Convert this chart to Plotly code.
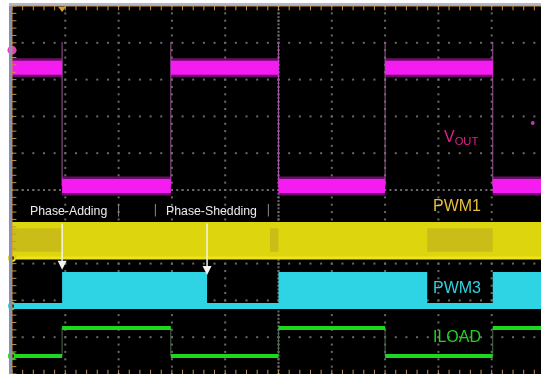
import numpy as np
import plotly.graph_objects as go

# Scope graticule: 10 horizontal divisions x 10 vertical divisions
X_MIN, X_MAX = -0.0563, 9.925
Y_MIN, Y_MAX = 0.0, 10.082

# Load-step instants (div) -- same edges for VOUT and ILOAD
step_times = [0.94, 2.98, 5.0, 7.0, 9.02]

# VOUT trace levels (div) for each interval between steps
vout_levels = [8.32, 5.11, 8.32, 5.11, 8.32, 5.11]
vout_spike = 9.02

# ILOAD levels (div)
iload_levels = [0.49, 1.25, 0.49, 1.25, 0.49, 1.25]

# PWM3: baseline / switching envelope and the intervals where phase 3 is active
pwm3_base, pwm3_high = 1.85, 2.77
pwm3_on = [(0.94, 3.66), (5.0, 7.79), (9.02, X_MAX)]

# PWM1: switching envelope and intervals with a lower-density fill
pwm1_low, pwm1_high = 3.15, 4.13
pwm1_dim = [(0.0, 0.94), (4.84, 5.0), (7.79, 9.02)]

# Annotation text
trace_labels = ["V<sub>OUT</sub>", "PWM1", "PWM3", "ILOAD"]
label_colors = ["#e0228e", "#e6bf3c", "#2fd2e2", "#22d222"]
label_pos = [(8.42, 6.44), (8.35, 4.57), (8.35, 2.36), (8.35, 1.01)]
event_labels = ["Phase-Adding", "Phase-Shedding"]
event_label_x = [1.06, 3.75]
event_label_y = 4.43
event_arrow_x = [pwm3_on[0][0], pwm3_on[0][1]]
event_arrow_tip = [2.83, 2.69]

fig = go.Figure()

# ---- graticule dots ----
gx, gy = [], []
for v in range(1, 10):
    for yy in np.arange(0, 10.001, 0.2):
        gx.append(v); gy.append(yy)
for h in range(1, 10):
    for xx in np.arange(0, 9.93, 0.2):
        gx.append(xx); gy.append(h)
# finer ticks on the centre cross
for yy in np.arange(0, 10.001, 0.1):
    gx.append(5); gy.append(yy)
for xx in np.arange(0, 9.93, 0.1):
    gx.append(xx); gy.append(5)
fig.add_trace(go.Scatter(x=gx, y=gy, mode="markers",
                         marker=dict(size=2, color="#6a6a6a", symbol="square"),
                         hoverinfo="skip", showlegend=False))

bounds = [0.0] + step_times + [X_MAX]


def level_segments(levels):
    xs, ys = [], []
    for i, lv in enumerate(levels):
        xs += [bounds[i], bounds[i + 1], None]
        ys += [lv, lv, None]
    return xs, ys


def edge_segments(levels, top=None):
    xs, ys = [], []
    for i, t in enumerate(step_times):
        a, b = levels[i], levels[i + 1]
        hi = max(a, b) if top is None else top
        xs += [t, t, None]
        ys += [min(a, b), hi, None]
    return xs, ys

# ---- PWM1 envelope ----
fig.add_trace(go.Scatter(x=[0, X_MAX, X_MAX, 0, 0],
                         y=[pwm1_low, pwm1_low, pwm1_high, pwm1_high, pwm1_low],
                         fill="toself", fillcolor="#ddd50e", mode="lines",
                         line=dict(width=0), hoverinfo="skip", showlegend=False))
for a, b in pwm1_dim:
    fig.add_trace(go.Scatter(x=[a, b, b, a, a],
                             y=[pwm1_low + 0.17, pwm1_low + 0.17, pwm1_high - 0.17,
                                pwm1_high - 0.17, pwm1_low + 0.17],
                             fill="toself", fillcolor="#cbbd18", mode="lines",
                             line=dict(width=0), hoverinfo="skip", showlegend=False))
fig.add_trace(go.Scatter(x=[0, X_MAX], y=[pwm1_low, pwm1_low], mode="lines",
                         line=dict(color="#eee41a", width=3),
                         hoverinfo="skip", showlegend=False))

# ---- PWM3 ----
for a, b in pwm3_on:
    fig.add_trace(go.Scatter(x=[a, b, b, a, a],
                             y=[pwm3_base, pwm3_base, pwm3_high, pwm3_high, pwm3_base],
                             fill="toself", fillcolor="#2ed4e4", mode="lines",
                             line=dict(width=0), hoverinfo="skip", showlegend=False))
fig.add_trace(go.Scatter(x=[0, X_MAX], y=[pwm3_base, pwm3_base], mode="lines",
                         line=dict(color="#2ed4e4", width=6),
                         hoverinfo="skip", showlegend=False))

# ---- VOUT ----
ex, ey = edge_segments(vout_levels, top=vout_spike)
fig.add_trace(go.Scatter(x=ex, y=ey, mode="lines",
                         line=dict(color="#9a5a96", width=1),
                         hoverinfo="skip", showlegend=False))
vx, vy = level_segments(vout_levels)
fig.add_trace(go.Scatter(x=vx, y=vy, mode="lines",
                         line=dict(color="#f21cee", width=19), opacity=0.45,
                         hoverinfo="skip", showlegend=False))
fig.add_trace(go.Scatter(x=vx, y=vy, mode="lines",
                         line=dict(color="#f41cf0", width=14),
                         hoverinfo="skip", showlegend=False))

# ---- ILOAD ----
ex, ey = edge_segments(iload_levels)
fig.add_trace(go.Scatter(x=ex, y=ey, mode="lines",
                         line=dict(color="#4e6a4e", width=1),
                         hoverinfo="skip", showlegend=False))
ix, iy = level_segments(iload_levels)
fig.add_trace(go.Scatter(x=ix, y=iy, mode="lines",
                         line=dict(color="#1ed81e", width=4),
                         hoverinfo="skip", showlegend=False))

# ---- screen frame: left and top strips with orange division ticks ----
fig.add_shape(type="rect", xref="x", yref="paper", x0=X_MIN, x1=0, y0=0, y1=1,
              fillcolor="#8890b4", line=dict(width=0), layer="above")
fig.add_shape(type="rect", xref="paper", yref="y", x0=0, x1=1, y0=10.0, y1=Y_MAX,
              fillcolor="#b8b8c2", line=dict(width=0), layer="above")
fig.add_shape(type="line", xref="x", yref="paper", x0=0, x1=0, y0=0, y1=0.992,
              line=dict(color="#c8923e", width=1), layer="above")
fig.add_shape(type="line", xref="paper", yref="y", x0=0.006, x1=1, y0=10.0, y1=10.0,
              line=dict(color="#c8923e", width=1), layer="above")

tick_y = list(np.arange(0, 10.001, 0.2))
tick_x = list(np.arange(0, 9.93, 0.2))
fig.add_trace(go.Scatter(x=[0.03] * len(tick_y), y=tick_y, mode="markers",
                         marker=dict(symbol="line-ew", size=4,
                                     line=dict(color="#c8923e", width=1)),
                         cliponaxis=False, hoverinfo="skip", showlegend=False))
fig.add_trace(go.Scatter(x=tick_x, y=[9.96] * len(tick_x), mode="markers",
                         marker=dict(symbol="line-ns", size=4,
                                     line=dict(color="#c8923e", width=1)),
                         cliponaxis=False, hoverinfo="skip", showlegend=False))
fig.add_trace(go.Scatter(x=tick_x, y=[0.04] * len(tick_x), mode="markers",
                         marker=dict(symbol="line-ns", size=4,
                                     line=dict(color="#c8923e", width=1)),
                         cliponaxis=False, hoverinfo="skip", showlegend=False))

# ---- channel markers, trigger position and trigger level ----
fig.add_trace(go.Scatter(x=[0], y=[8.80], mode="markers",
                         marker=dict(size=9, color="#e23cc8"),
                         cliponaxis=False, hoverinfo="skip", showlegend=False))
fig.add_trace(go.Scatter(x=[0, 0, 0], y=[pwm1_low, pwm3_base, iload_levels[0]],
                         mode="markers",
                         marker=dict(size=6, color="#101010",
                                     line=dict(color=["#e0d40e", "#2ed4e4", "#1ed81e"], width=2)),
                         cliponaxis=False, hoverinfo="skip", showlegend=False))
fig.add_trace(go.Scatter(x=[step_times[0]], y=[9.93], mode="markers",
                         marker=dict(symbol="triangle-down", size=7, color="#d8a032"),
                         cliponaxis=False, hoverinfo="skip", showlegend=False))
fig.add_trace(go.Scatter(x=[9.77], y=[6.82], mode="markers",
                         marker=dict(size=4, color="#b83ca8"),
                         hoverinfo="skip", showlegend=False))

# ---- label box edges around the event captions ----
for xe in [2.0, 2.69, 4.81]:
    fig.add_shape(type="line", xref="x", yref="y", x0=xe, x1=xe, y0=4.28, y1=4.62,
                  line=dict(color="#8a8a8a", width=1))

# ---- trace names ----
for txt, col, (px, py) in zip(trace_labels, label_colors, label_pos):
    fig.add_annotation(x=px, y=py, xref="x", yref="y", text=txt, showarrow=False,
                       font=dict(family="Liberation Sans, Arial", size=16, color=col),
                       xanchor="center", yanchor="middle")

# ---- event captions and arrows ----
for txt, lx in zip(event_labels, event_label_x):
    fig.add_annotation(x=lx, y=event_label_y, xref="x", yref="y", text=txt,
                       showarrow=False,
                       font=dict(family="Liberation Sans, Arial", size=12.3, color="#ececec"),
                       xanchor="center", yanchor="middle")
for axx, tip in zip(event_arrow_x, event_arrow_tip):
    fig.add_annotation(x=axx, y=tip, ax=axx, ay=pwm1_high, xref="x", yref="y",
                       axref="x", ayref="y", text="", showarrow=True,
                       arrowhead=2, arrowsize=1.2, arrowwidth=1.5,
                       arrowcolor="#f2f2f2")

fig.update_layout(
    width=541, height=374,
    margin=dict(l=9, r=0, t=3, b=0),
    paper_bgcolor="#ffffff",
    plot_bgcolor="#000000",
    showlegend=False,
    xaxis=dict(range=[X_MIN, X_MAX], showgrid=False, zeroline=False,
               showticklabels=False, ticks="", fixedrange=True),
    yaxis=dict(range=[Y_MIN, Y_MAX], showgrid=False, zeroline=False,
               showticklabels=False, ticks="", fixedrange=True),
)

fig.write_html("out.html")
